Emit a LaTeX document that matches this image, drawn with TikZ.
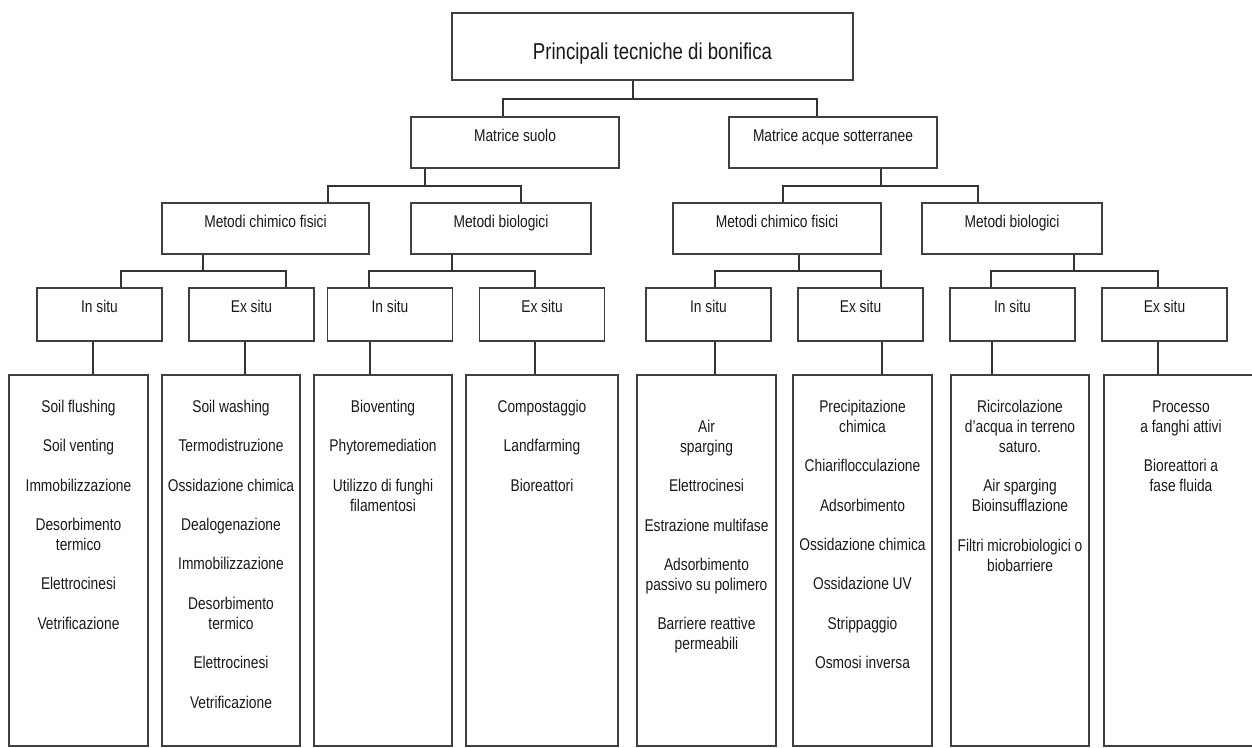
\documentclass[tikz,border=0pt]{standalone}
\usepackage{fontspec}
\setmainfont{Liberation Sans}[FakeStretch=0.81]
\newdimen\pxu
\pxu=0.6pt
\newdimen\gap
\gap=19.4\pxu
\newcommand\labfont{\fontsize{10.2pt}{12pt}\selectfont}
\newcommand\rootfont{\fontsize{13.8pt}{16pt}\selectfont}
\tikzset{
  box/.style={draw=black!75, line width=1.3\pxu, rectangle, inner xsep=0pt, inner ysep=0pt, font=\labfont, text=black!90},
  rootbox/.style={box, font=\rootfont, minimum width=401\pxu, text height=46\pxu, text depth=21\pxu},
  lvA/.style={box, text height=24\pxu, text depth=27\pxu},
  lvB/.style={box, minimum width=125\pxu, text height=24\pxu, text depth=29\pxu},
  leafbox/.style={box, minimum height=371\pxu},
  leaftext/.style={anchor=north, align=center, inner sep=0pt, font=\labfont, text=black!90},
  conn/.style={draw=black!80, line width=1.3\pxu}
}
\begin{document}
\begin{tikzpicture}[x=0.6pt, y=-0.6pt]
\useasboundingbox (0,0) rectangle (1252,747);
% root
\node[rootbox] (root) at (652.5,46.5) {Principali tecniche di bonifica};
% level 1
\node[lvA, minimum width=208\pxu] (suolo) at (515,142.5) {Matrice suolo};
\node[lvA, minimum width=208\pxu] (acque) at (833,142.5) {Matrice acque sotterranee};
% level 2
\node[lvA, minimum width=207\pxu] (mcfs) at (265.5,228.5) {Metodi chimico fisici};
\node[lvA, minimum width=180\pxu] (mbs) at (501,228.5) {Metodi biologici};
\node[lvA, minimum width=208\pxu] (mcfw) at (777,228.5) {Metodi chimico fisici};
\node[lvA, minimum width=180\pxu] (mbw) at (1012,228.5) {Metodi biologici};
% level 3
\node[lvB] (is1) at (99.5,314.5) {In situ};
\node[lvB] (es1) at (251.5,314.5) {Ex situ};
\node[lvB] (is2) at (390,314.5) {In situ};
\node[lvB] (es2) at (542,314.5) {Ex situ};
\node[lvB] (is3) at (708.5,314.5) {In situ};
\node[lvB] (es3) at (860.5,314.5) {Ex situ};
\node[lvB] (is4) at (1012.5,314.5) {In situ};
\node[lvB] (es4) at (1164.5,314.5) {Ex situ};
% leaf boxes
\node[leafbox, minimum width=139\pxu] (lf1) at (78.5,560.5) {};
\node[leafbox, minimum width=138\pxu] (lf2) at (231,560.5) {};
\node[leafbox, minimum width=138\pxu] (lf3) at (383,560.5) {};
\node[leafbox, minimum width=152\pxu] (lf4) at (542,560.5) {};
\node[leafbox, minimum width=139\pxu] (lf5) at (706.5,560.5) {};
\node[leafbox, minimum width=139\pxu] (lf6) at (862.5,560.5) {};
\node[leafbox, minimum width=138\pxu] (lf7) at (1020,560.5) {};
\node[leafbox, minimum width=154\pxu] (lf8) at (1181,560.5) {};
% leaf texts
\node[leaftext] (t1) at (78.5,398) {\strut Soil flushing\\[\gap]Soil venting\\[\gap]Immobilizzazione\\[\gap]Desorbimento\\termico\\[\gap]Elettrocinesi\\[\gap]Vetrificazione};
\node[leaftext] (t2) at (231,398) {\strut Soil washing\\[\gap]Termodistruzione\\[\gap]Ossidazione chimica\\[\gap]Dealogenazione\\[\gap]Immobilizzazione\\[\gap]Desorbimento\\termico\\[\gap]Elettrocinesi\\[\gap]Vetrificazione};
\node[leaftext] (t3) at (383,398) {\strut Bioventing\\[\gap]Phytoremediation\\[\gap]Utilizzo di funghi\\filamentosi};
\node[leaftext] (t4) at (542,398) {\strut Compostaggio\\[\gap]Landfarming\\[\gap]Bioreattori};
\node[leaftext] (t5) at (706.5,418) {\strut Air\\sparging\\[\gap]Elettrocinesi\\[\gap]Estrazione multifase\\[\gap]Adsorbimento\\passivo su polimero\\[\gap]Barriere reattive\\permeabili};
\node[leaftext] (t6) at (862.5,398) {\strut Precipitazione\\chimica\\[\gap]Chiariflocculazione\\[\gap]Adsorbimento\\[\gap]Ossidazione chimica\\[\gap]Ossidazione UV\\[\gap]Strippaggio\\[\gap]Osmosi inversa};
\node[leaftext] (t7) at (1020,398) {\strut Ricircolazione\\d’acqua in terreno\\saturo.\\[\gap]Air sparging\\Bioinsufflazione\\[\gap]Filtri microbiologici o\\biobarriere};
\node[leaftext] (t8) at (1181,398) {\strut Processo\\a fanghi attivi\\[\gap]Bioreattori a\\fase fluida};
% junction coordinates
\coordinate (j0) at (633,99);
\coordinate (j0a) at (503,99);
\coordinate (j0b) at (817,99);
\coordinate (j1) at (425,186);
\coordinate (j1a) at (328,186);
\coordinate (j1b) at (521,186);
\coordinate (j2) at (881,186);
\coordinate (j2a) at (783,186);
\coordinate (j2b) at (978,186);
\coordinate (k1) at (203,271);
\coordinate (k1a) at (121,271);
\coordinate (k1b) at (286,271);
\coordinate (k2) at (452,271);
\coordinate (k2a) at (369,271);
\coordinate (k2b) at (535,271);
\coordinate (k3) at (799,271);
\coordinate (k3a) at (715,271);
\coordinate (k3b) at (881,271);
\coordinate (k4) at (1074,271);
\coordinate (k4a) at (991,271);
\coordinate (k4b) at (1158,271);
\coordinate (m1) at (93,0);
\coordinate (m2) at (245,0);
\coordinate (m3) at (370,0);
\coordinate (m4) at (535,0);
\coordinate (m5) at (715,0);
\coordinate (m6) at (882,0);
\coordinate (m7) at (992,0);
\coordinate (m8) at (1158,0);
% connectors
\draw[conn] (root.south -| j0) -- (j0);
\draw[conn] (suolo.north -| j0a) -- (j0a) -- (j0b) -- (acque.north -| j0b);
\draw[conn] (suolo.south -| j1) -- (j1);
\draw[conn] (mcfs.north -| j1a) -- (j1a) -- (j1b) -- (mbs.north -| j1b);
\draw[conn] (acque.south -| j2) -- (j2);
\draw[conn] (mcfw.north -| j2a) -- (j2a) -- (j2b) -- (mbw.north -| j2b);
\draw[conn] (mcfs.south -| k1) -- (k1);
\draw[conn] (is1.north -| k1a) -- (k1a) -- (k1b) -- (es1.north -| k1b);
\draw[conn] (mbs.south -| k2) -- (k2);
\draw[conn] (is2.north -| k2a) -- (k2a) -- (k2b) -- (es2.north -| k2b);
\draw[conn] (mcfw.south -| k3) -- (k3);
\draw[conn] (is3.north -| k3a) -- (k3a) -- (k3b) -- (es3.north -| k3b);
\draw[conn] (mbw.south -| k4) -- (k4);
\draw[conn] (is4.north -| k4a) -- (k4a) -- (k4b) -- (es4.north -| k4b);
\draw[conn] (is1.south -| m1) -- (lf1.north -| m1);
\draw[conn] (es1.south -| m2) -- (lf2.north -| m2);
\draw[conn] (is2.south -| m3) -- (lf3.north -| m3);
\draw[conn] (es2.south -| m4) -- (lf4.north -| m4);
\draw[conn] (is3.south -| m5) -- (lf5.north -| m5);
\draw[conn] (es3.south -| m6) -- (lf6.north -| m6);
\draw[conn] (is4.south -| m7) -- (lf7.north -| m7);
\draw[conn] (es4.south -| m8) -- (lf8.north -| m8);
\end{tikzpicture}
\end{document}
